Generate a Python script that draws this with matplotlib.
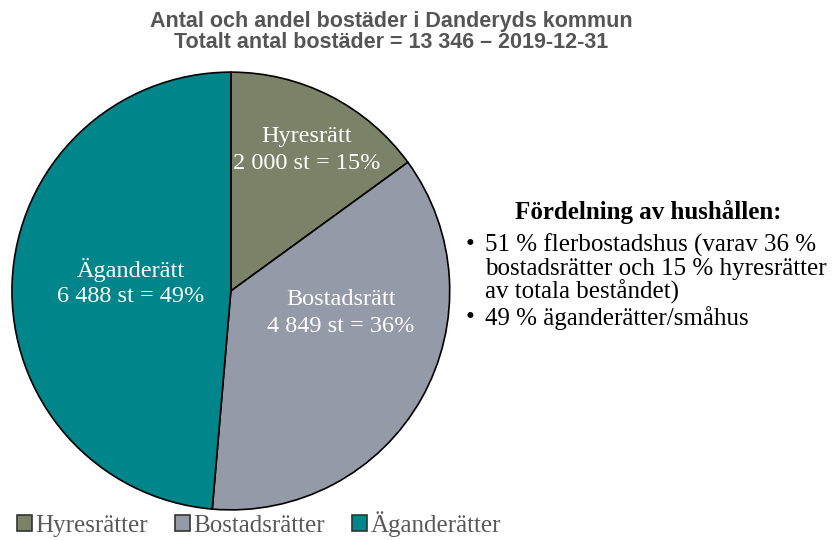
import matplotlib.pyplot as plt
from matplotlib.patches import Patch

labels = ["Hyresrätter", "Bostadsrätter", "Äganderätter"]
counts = [2000, 4849, 6488]
slice_text = [["Hyresrätt", "2 000 st = 15%"],
              ["Bostadsrätt", "4 849 st = 36%"],
              ["Äganderätt", "6 488 st = 49%"]]
colors = ["#7a8268", "#959aa9", "#00858a"]
bullet_lines = [["51 % flerbostadshus (varav 36 %", "bostadsrätter och 15 % hyresrätter", "av totala beståndet)"],
                ["49 % äganderätter/småhus"]]

W, H = 837, 540
fig = plt.figure(figsize=(W / 100, H / 100), dpi=100)
serif = ["Liberation Serif", "DejaVu Serif"]

ax = fig.add_axes([0.0143, 0.0556, 0.523, 0.811])
wedges, _ = ax.pie(counts, colors=colors, startangle=90, counterclock=False,
                   wedgeprops=dict(edgecolor="black", linewidth=1.2))
ax.set_aspect("equal")
ax.set_xlim(-1, 1)
ax.set_ylim(-1, 1)

# label centres in pie units
pos = [(0.347, 0.644), (0.502, -0.10), (-0.457, 0.037)]
for (x, y), lines in zip(pos, slice_text):
    ax.text(x, y + 0.06, lines[0], ha="center", va="center", fontsize=17.5, color="white", family=serif)
    ax.text(x, y - 0.06, lines[1], ha="center", va="center", fontsize=17.5, color="white", family=serif)

fig.text(0.467, 1 - 21 / H, "Antal och andel bostäder i Danderyds kommun", ha="center", va="center",
         fontsize=15.5, fontweight="bold", color="#555555", family="Liberation Sans")
fig.text(0.467, 1 - 43 / H, "Totalt antal bostäder = 13 346 – 2019-12-31", ha="center", va="center",
         fontsize=15.5, fontweight="bold", color="#555555", family="Liberation Sans")

fig.text(648 / W, 1 - 212 / H, "Fördelning av hushållen:", ha="center", va="center",
         fontsize=18, fontweight="bold", color="black", family=serif)
ys = [[245, 269, 292], [318]]
for lines, yy in zip(bullet_lines, ys):
    fig.text(466 / W, 1 - yy[0] / H, "•", ha="left", va="center", fontsize=18, family=serif)
    for line, y in zip(lines, yy):
        fig.text(485 / W, 1 - y / H, line, ha="left", va="center", fontsize=18, family=serif)

handles = [Patch(facecolor=c, edgecolor="#333333", linewidth=1.2) for c in colors]
leg = fig.legend(handles, labels, loc="lower left", bbox_to_anchor=(17 / W, 0.006), ncol=3,
                 frameon=False, handlelength=0.6, handleheight=0.6, handletextpad=0.12,
                 columnspacing=1.1, borderpad=0, borderaxespad=0,
                 prop={"family": serif, "size": 18})
for t in leg.get_texts():
    t.set_color("#595959")

fig.savefig("out.png", dpi=100, facecolor="white")
